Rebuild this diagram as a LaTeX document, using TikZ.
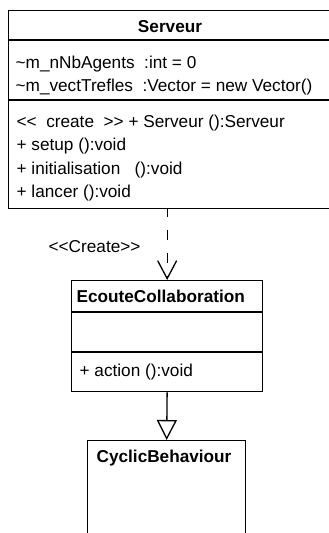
\documentclass[tikz,border=0pt]{standalone}
\usepackage{fontspec}
\newfontfamily\umlfont{Liberation Sans}
\usetikzlibrary{arrows.meta}
\begin{document}
\begin{tikzpicture}[x=1pt, y=-1pt, line width=1.3pt,
  classbox/.style={draw, rectangle, anchor=north west, inner sep=0pt},
  txt/.style={anchor=base west, inner sep=0pt, font=\umlfont\fontsize{17.2}{20}\selectfont},
  titletxt/.style={txt, font=\umlfont\bfseries\fontsize{17.2}{20}\selectfont},
  dep/.style={dash pattern=on 10pt off 13pt, dash phase=2pt,
    -{Straight Barb[length=18pt, width=19pt, line width=1.3pt]}},
  gen/.style={-{Triangle[open, length=20pt, width=20pt, line width=1.3pt]}}]
\useasboundingbox (0,0) rectangle (329,533);
\clip (0,0) rectangle (329,533);

% class Serveur
\node[classbox, minimum width=324pt, minimum height=198pt] (serveur) at (8,10) {};
\draw ([yshift=-30pt]serveur.north west) -- ([yshift=-30pt]serveur.north east);
\draw ([yshift=-90pt]serveur.north west) -- ([yshift=-90pt]serveur.north east);
\node[titletxt, anchor=base] (serveurname) at (170,32) {Serveur};
\node[txt] (attr1) at (15,68) {\textasciitilde m\_nNbAgents\ \ :int = 0};
\node[txt] (attr2) at (15,91) {\textasciitilde m\_vectTrefles\ \ :Vector = new Vector()};
\node[txt] (op1) at (16,127) {<<\ \ create\ \ >> + Serveur ():Serveur};
\node[txt] (op2) at (16,150) {+ setup ():void};
\node[txt] (op3) at (16,174) {+ initialisation\ \ \ ():void};
\node[txt] (op4) at (16,197) {+ lancer ():void};

% class EcouteCollaboration
\node[classbox, minimum width=191pt, minimum height=111pt] (ecoute) at (71,280) {};
\draw ([yshift=-32pt]ecoute.north west) -- ([yshift=-32pt]ecoute.north east);
\draw ([yshift=-72pt]ecoute.north west) -- ([yshift=-72pt]ecoute.north east);
\node[titletxt] (ecoutename) at (76,302) {EcouteCollaboration};
\node[txt] (ecouteop) at (79,376) {+ action ():void};

% class CyclicBehaviour
\node[classbox, minimum width=158pt, minimum height=130pt] (cyclic) at (87,440) {};
\node[titletxt] (cyclicname) at (96,462) {CyclicBehaviour};

% relations
\draw[dep] (serveur.south -| ecoute.north) -- (ecoute.north);
\node[txt] (createlbl) at (48,252) {<<Create>>};
\draw[gen] (ecoute.south) -- (cyclic.north);
\end{tikzpicture}
\end{document}
